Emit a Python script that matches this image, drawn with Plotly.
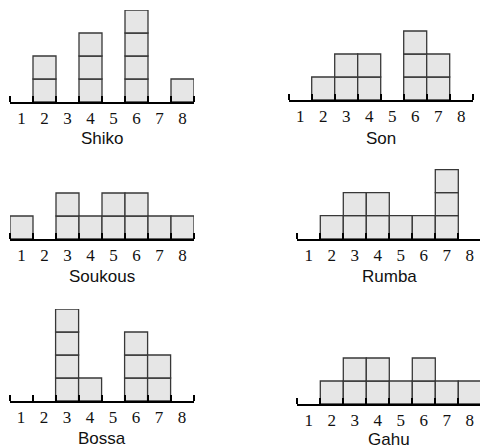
import plotly.graph_objects as go

bins = [1, 2, 3, 4, 5, 6, 7, 8]
tick_labels = ["1", "2", "3", "4", "5", "6", "7", "8"]

names = ["Shiko", "Son", "Soukous", "Rumba", "Bossa", "Gahu"]
shiko = [0, 2, 0, 3, 0, 4, 0, 1]
son = [0, 1, 2, 2, 0, 3, 2, 0]
soukous = [1, 0, 2, 1, 2, 2, 1, 1]
rumba = [0, 1, 2, 2, 1, 1, 3, 0]
bossa = [0, 0, 4, 1, 0, 3, 2, 0]
gahu = [0, 1, 2, 2, 1, 2, 1, 1]
series = [shiko, son, soukous, rumba, bossa, gahu]

# layout (pixel positions of each panel: left edge of axis, baseline, title centre)
W, H = 480, 448
UNIT = 23.0
panel_pos = [(10, 102, 138), (288.7, 100, 138.5), (10, 239, 276),
             (297.3, 238.7, 276), (9.6, 401, 438.5), (297.3, 404, 439)]

fig = go.Figure()
for i, (name, counts) in enumerate(zip(names, series)):
    idx = "" if i == 0 else str(i + 1)
    x0, base_px, title_px = panel_pos[i]
    x1 = min(x0 + 8 * UNIT, W)
    xs, bases, ys = [], [], []
    for b, c in zip(bins, counts):
        for k in range(c):
            xs.append(b)
            bases.append(k)
            ys.append(1)
    fig.add_trace(go.Bar(
        x=xs, y=ys, base=bases, width=1,
        marker=dict(color="#e6e6e6", line=dict(color="#383838", width=1.3)),
        xaxis="x" + idx, yaxis="y" + idx, showlegend=False, hoverinfo="skip",
    ))
    ybot = 1 - base_px / H
    ytop = ybot + 4 * UNIT / H
    fig.layout["xaxis" + idx] = dict(
        domain=[x0 / W, x1 / W], range=[0.5, 0.5 + (x1 - x0) / UNIT],
        anchor="y" + idx, showline=True, linecolor="black", linewidth=1.6,
        showgrid=False, zeroline=False, tickmode="array", tickvals=bins,
        ticktext=tick_labels, ticks="",
        tickfont=dict(family="Liberation Serif", size=17, color="#111"),
        minor=dict(tick0=0.5, dtick=1, ticks="inside", ticklen=6,
                   tickcolor="black", tickwidth=1.5, showgrid=False),
        fixedrange=True,
    )
    fig.layout["yaxis" + idx] = dict(
        domain=[ybot, ytop], range=[0, 4], anchor="x" + idx,
        visible=False, fixedrange=True,
    )
    fig.add_annotation(
        x=(x0 + 4 * UNIT) / W, y=1 - title_px / H, xref="paper", yref="paper",
        text=name, showarrow=False, xanchor="center", yanchor="middle",
        font=dict(family="Liberation Sans, Arial, sans-serif", size=17, color="#111"),
    )

fig.update_layout(
    width=W, height=H, margin=dict(l=0, r=0, t=0, b=0),
    paper_bgcolor="white", plot_bgcolor="white", barmode="overlay",
)
fig.write_html(
    "out.html",
    config={"displayModeBar": False},
    post_script="document.body.style.margin='0';document.body.style.overflow='hidden';",
)
